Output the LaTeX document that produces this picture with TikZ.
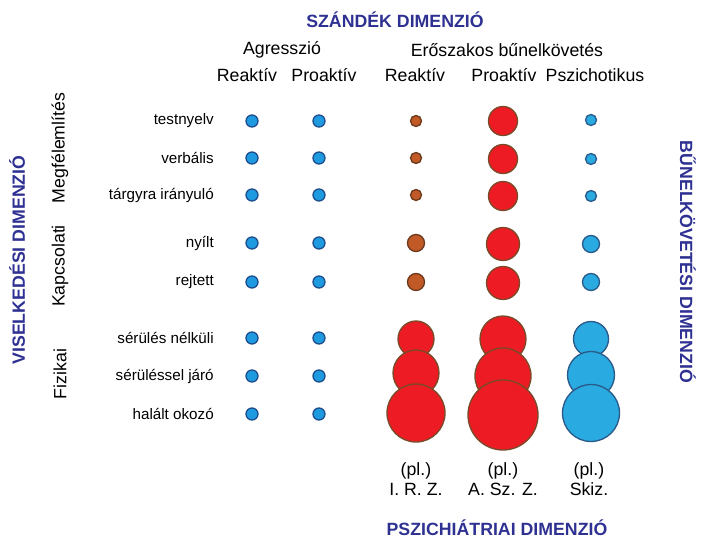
\documentclass[tikz,border=0pt]{standalone}
\usepackage{fontspec}
\setmainfont{Liberation Sans}
\usepackage{tikz}
\usetikzlibrary{positioning}

\definecolor{dimblue}{HTML}{2E3192}
\definecolor{agrfill}{HTML}{1E9AE0}
\definecolor{agrline}{HTML}{1F4E8C}
\definecolor{brfill}{HTML}{C25A28}
\definecolor{brline}{HTML}{6B3A1A}
\definecolor{redfill}{HTML}{ED1C24}
\definecolor{redline}{HTML}{7A4A28}
\definecolor{skfill}{HTML}{29ABE2}
\definecolor{skline}{HTML}{2A5A8A}

\tikzset{
	dot/.style={circle, draw, inner sep=0pt, line width=1pt},
	agr/.style={dot, fill=agrfill, draw=agrline, minimum size=9pt},
	reak/.style={dot, fill=brfill, draw=brline, minimum size=#1},
	proak/.style={dot, fill=redfill, draw=redline, minimum size=#1},
	psy/.style={dot, fill=skfill, draw=skline, minimum size=#1},
	dim/.style={font=\fontsize{13.3}{15}\selectfont\bfseries, text=dimblue},
	head/.style={font=\fontsize{13.3}{15}\selectfont},
	rowlab/.style={font=\fontsize{11.4}{13}\selectfont, anchor=east, inner sep=0pt}
}

\begin{document}
\begin{tikzpicture}[x=0.75pt,y=-0.75pt]
	\useasboundingbox (0,0) rectangle (704,538);
	
	% dimensions
	\node[dim] (szandek) at (395,20) {SZÁNDÉK DIMENZIÓ};
	\node[dim, anchor=base, inner sep=0pt] (pszich) at (497,535) {PSZICHIÁTRIAI DIMENZIÓ};
	\node[dim, rotate=90] (viselk) at (17,260) {VISELKEDÉSI DIMENZIÓ};
	\node[dim, rotate=-90] (bunelk) at (688,262) {BŰNELKÖVETÉSI DIMENZIÓ};
	
	% column heads
	\node[head] (agresszio) at (282,50) {Agresszió};
	\node[head] (eroszak) at (507,50) {Erőszakos bűnelkövetés};
	\node[head] (h1) at (247,75) {Reaktív};
	\node[head] (h2) at (324,75) {Proaktív};
	\node[head] (h3) at (415,75) {Reaktív};
	\node[head] (h4) at (504,75) {Proaktív};
	\node[head] (h5) at (595,75) {Pszichotikus};
	
	% groups
	\node[head, rotate=90] (megfel) at (60,148) {Megfélemlítés};
	\node[head, rotate=90] (kapcs) at (60,266) {Kapcsolati};
	\node[head, rotate=90] (fizikai) at (60,374) {Fizikai};
	
	% rows
	\node[rowlab] (r1) at (214,121) {testnyelv};
	\node[rowlab] (r2) at (214,158) {verbális};
	\node[rowlab] (r3) at (214,195) {tárgyra irányuló};
	\node[rowlab] (r4) at (214,243) {nyílt};
	\node[rowlab] (r5) at (214,282) {rejtett};
	\node[rowlab] (r6) at (214,338) {sérülés nélküli};
	\node[rowlab] (r7) at (214,376) {sérüléssel járó};
	\node[rowlab] (r8) at (214,414) {halált okozó};
	
	% agresszio
	\node[agr] (a11) at (252,121) {};
	\node[agr] (a12) at (252,158) {};
	\node[agr] (a13) at (252,195) {};
	\node[agr] (a14) at (252,243) {};
	\node[agr] (a15) at (252,282) {};
	\node[agr] (a16) at (252,338) {};
	\node[agr] (a17) at (252,376) {};
	\node[agr] (a18) at (252,414) {};
	\node[agr] (a21) at (319,121) {};
	\node[agr] (a22) at (319,158) {};
	\node[agr] (a23) at (319,195) {};
	\node[agr] (a24) at (319,243) {};
	\node[agr] (a25) at (319,282) {};
	\node[agr] (a26) at (319,338) {};
	\node[agr] (a27) at (319,376) {};
	\node[agr] (a28) at (319,414) {};
	
	% reaktiv
	\node[reak=8.25pt] (e11) at (416,121) {};
	\node[reak=8.25pt] (e12) at (416,158) {};
	\node[reak=8.25pt] (e13) at (416,195) {};
	\node[reak=12.75pt] (e14) at (416,243) {};
	\node[reak=12.75pt] (e15) at (416,282) {};
	\node[proak=27pt] (e16) at (416,339) {};
	\node[proak=34.5pt] (e17) at (416,373) {};
	\node[proak=43.5pt] (e18) at (416,413) {};
	
	% proaktiv
	\node[proak=21.75pt] (e21) at (503,121) {};
	\node[proak=21.75pt] (e22) at (503,159) {};
	\node[proak=21.75pt] (e23) at (503,196) {};
	\node[proak=24.75pt] (e24) at (503,244) {};
	\node[proak=24.75pt] (e25) at (503,283) {};
	\node[proak=34.5pt] (e26) at (503,339) {};
	\node[proak=42pt] (e27) at (503,376) {};
	\node[proak=52.5pt] (e28) at (503,415) {};
	
	% pszichotikus
	\node[psy=8.25pt] (e31) at (591,120) {};
	\node[psy=8.25pt] (e32) at (591,159) {};
	\node[psy=8.25pt] (e33) at (591,196) {};
	\node[psy=12.75pt] (e34) at (591,244) {};
	\node[psy=12.75pt] (e35) at (591,282) {};
	\node[psy=26.25pt] (e36) at (591,339) {};
	\node[psy=35.25pt] (e37) at (591,375) {};
	\node[psy=42.75pt] (e38) at (591,413) {};
	
	% examples
	\node[head, align=center] (pl1) at (416,479) {(pl.)\\I. R. Z.};
	\node[head, align=center] (pl2) at (503,479) {(pl.)\\A. Sz. Z.};
	\node[head, align=center] (pl3) at (589,479) {(pl.)\\Skiz.};
\end{tikzpicture}
\end{document}
